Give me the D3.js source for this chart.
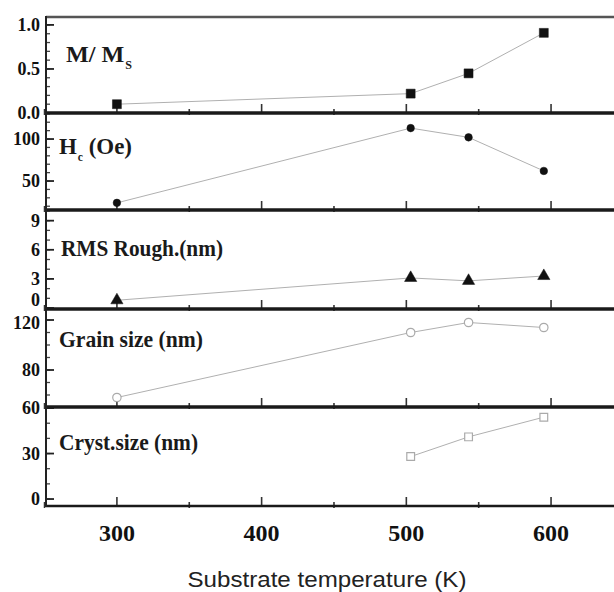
<!DOCTYPE html><head><meta charset = "utf-8">
<title>substrate temperature</title>
<style type = "text/css">
body { margin: 0; background: white; }
svg text.tick { font-family: "Liberation Serif", serif; font-weight: bold; font-size: 18px; }
svg text.panel { font-family: "Liberation Serif", serif; font-weight: bold; font-size: 24px; }
svg text.xtick { font-family: "Liberation Serif", serif; font-weight: bold; font-size: 24px; }
svg text.xtitle { font-family: "Liberation Sans", Arial, sans-serif; font-size: 22px; }
</style>
<script type="text/javascript" src="https://cdn.jsdelivr.net/npm/d3@7"></script>
</head><body>
<div id="chart"></div>
<script type="text/javascript">

// data
var temps = [300, 503, 543, 595];
var magnetization = [0.10, 0.22, 0.45, 0.91];
var coercivity = [24, 113, 102, 62];
var roughness = [0.8, 3.1, 2.8, 3.3];
var grainSize = [58, 110, 118, 114];
var crystTemps = [503, 543, 595];
var crystSize = [28, 41, 54];

var xTicks = [300, 400, 500, 600];
var xMinorTicks = [250, 350, 450, 550];

var width = 614, height = 592;
var left = 46, right = 614;

var svg = d3.select("#chart").append("svg")
    .attr("width", width).attr("height", height);

var x = d3.scaleLinear().domain([251, 643.5]).range([left, right]);

// one entry per stacked panel
var panels = [
  { top: 17, bottom: 113, domain: [0, 1.09], ticks: [0, 0.5, 1.0], fmt: d3.format(".1f"), minor: 0.1,
    xs: temps, ys: magnetization, symbol: d3.symbolSquare, size: 80, filled: true, label: "M/ M", sub: "S", labelX: 66, labelY: 62, labelW: 66 },
  { top: 113, bottom: 210, domain: [15.5, 131], ticks: [50, 100], fmt: d3.format("d"), minor: 10,
    xs: temps, ys: coercivity, symbol: d3.symbolCircle, size: 45, filled: true, label: "H", sub: "c", after: " (Oe)", labelX: 59, labelY: 154, labelW: 73 },
  { top: 210, bottom: 309, domain: [-0.1, 10.1], ticks: [0, 3, 6, 9], fmt: d3.format("d"), minor: 1,
    xs: temps, ys: roughness, symbol: d3.symbolTriangle, size: 65, filled: true, label: "RMS Rough.(nm)", labelX: 61, labelY: 256, labelW: 162 },
  { top: 309, bottom: 407, domain: [50.4, 128.8], ticks: [80, 120], fmt: d3.format("d"), minor: 10,
    xs: temps, ys: grainSize, symbol: d3.symbolCircle, size: 55, filled: false, label: "Grain size (nm)", labelX: 59, labelY: 347, labelW: 144 },
  { top: 407, bottom: 506, domain: [-4.6, 60.7], ticks: [0, 30, 60], fmt: d3.format("d"), minor: 10,
    xs: crystTemps, ys: crystSize, symbol: d3.symbolSquare, size: 60, filled: false, label: "Cryst.size (nm)", labelX: 59, labelY: 450, labelW: 139 }
];

panels.forEach(function(p, pi) {
  var y = d3.scaleLinear().domain(p.domain).range([p.bottom, p.top]);
  var g = svg.append("g");

  // y ticks, pointing inward
  var minors = d3.range(Math.ceil(p.domain[0] / p.minor) * p.minor, p.domain[1], p.minor);
  g.selectAll("line.ymin").data(minors).join("line").attr("class", "ymin")
    .attr("x1", left).attr("x2", left + 4)
    .attr("y1", function(d) { return y(d); }).attr("y2", function(d) { return y(d); })
    .attr("stroke", "#444").attr("stroke-width", 1.3);
  g.selectAll("line.ymaj").data(p.ticks).join("line").attr("class", "ymaj")
    .attr("x1", left).attr("x2", left + 8)
    .attr("y1", function(d) { return y(d); }).attr("y2", function(d) { return y(d); })
    .attr("stroke", "#222").attr("stroke-width", 1.8);
  // the "0" of the roughness panel and the "120" below it are crowded, nudge them apart
  g.selectAll("text.tick").data(p.ticks).join("text").attr("class", "tick")
    .attr("x", 40)
    .attr("y", function(d) {
      if (pi == 2 && d == 0) return y(d) - 2;
      if (pi == 3 && d == 120) return y(d) + 9;
      return y(d) + 6;
    })
    .attr("text-anchor", "end").attr("fill", "#111")
    .text(function(d) { return p.fmt(d); });

  // x ticks on the bottom edge, pointing up
  g.selectAll("line.xmaj").data(xTicks).join("line").attr("class", "xmaj")
    .attr("x1", function(d) { return x(d); }).attr("x2", function(d) { return x(d); })
    .attr("y1", p.bottom).attr("y2", p.bottom - 9)
    .attr("stroke", "#333").attr("stroke-width", 1.6);
  g.selectAll("line.xmin").data(xMinorTicks).join("line").attr("class", "xmin")
    .attr("x1", function(d) { return x(d); }).attr("x2", function(d) { return x(d); })
    .attr("y1", p.bottom + 2).attr("y2", p.bottom - 4)
    .attr("stroke", "#333").attr("stroke-width", 1.6);

  // connecting line
  var pts = p.xs.map(function(t, i) { return [t, p.ys[i]]; });
  g.append("path").datum(pts)
    .attr("d", d3.line().x(function(d) { return x(d[0]); }).y(function(d) { return y(d[1]); }))
    .attr("fill", "none").attr("stroke", "#b0b0b0").attr("stroke-width", 1);

  // markers
  g.selectAll("path.mark").data(pts).join("path").attr("class", "mark")
    .attr("transform", function(d) { return "translate(" + x(d[0]) + "," + y(d[1]) + ")"; })
    .attr("d", d3.symbol().type(p.symbol).size(p.size))
    .attr("fill", p.filled ? "#111" : "white")
    .attr("stroke", p.filled ? "#111" : "#aaa")
    .attr("stroke-width", p.filled ? 0.5 : 1.2);

  // panel label
  var t = g.append("text").attr("class", "panel")
    .attr("x", p.labelX).attr("y", p.labelY).attr("fill", "#1a1a1a");
  t.append("tspan").text(p.label);
  if (p.sub) {
    t.append("tspan").attr("dx", 1).attr("dy", 7).style("font-size", "12px").text(p.sub);
  }
  if (p.after) {
    t.append("tspan").attr("dy", -7).text(p.after);
  }
  t.attr("textLength", p.labelW).attr("lengthAdjust", "spacingAndGlyphs");
});

// top border, panel separators and left axis
var edges = [17].concat(panels.map(function(p) { return p.bottom; }));
svg.selectAll("line.edge").data(edges).join("line").attr("class", "edge")
  .attr("x1", left).attr("x2", right)
  .attr("y1", function(d) { return d; }).attr("y2", function(d) { return d; })
  .attr("stroke", function(d, i) { return i == 0 ? "#555" : "#1a1a1a"; })
  .attr("stroke-width", function(d, i) { return i == 0 || i == edges.length - 1 ? 2.5 : 3.5; });
svg.append("line")
  .attr("x1", left).attr("x2", left).attr("y1", 16).attr("y2", 507)
  .attr("stroke", "#222").attr("stroke-width", 2);

// x tick labels
svg.selectAll("text.xtick").data(xTicks).join("text").attr("class", "xtick")
  .attr("x", function(d) { return x(d); }).attr("y", 541)
  .attr("text-anchor", "middle").attr("fill", "#111")
  .text(function(d) { return d; });

svg.append("text").attr("class", "xtitle")
  .attr("x", 327).attr("y", 587).attr("text-anchor", "middle").attr("fill", "#222")
  .attr("textLength", 279).attr("lengthAdjust", "spacingAndGlyphs")
  .text("Substrate temperature (K)");

</script>
</body></html>
